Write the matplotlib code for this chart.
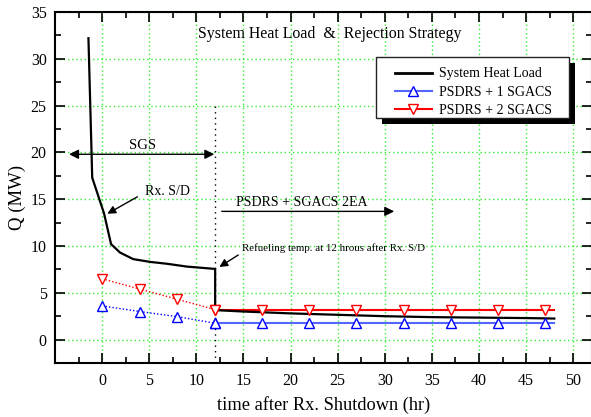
import matplotlib
matplotlib.use("Agg")
import matplotlib.pyplot as plt
from matplotlib.lines import Line2D
from matplotlib.patches import Rectangle
from matplotlib.ticker import MultipleLocator

# ---- data ----
heat_t = [-1.45, -1.05, 0.2, 0.95, 1.9, 3.3, 5.1, 6.9, 9.0, 12.0, 12.0, 15, 20, 25, 30, 35, 40, 45, 48]
heat_q = [32.2, 17.3, 13.5, 10.2, 9.3, 8.6, 8.3, 8.1, 7.8, 7.55, 3.15, 3.0, 2.8, 2.65, 2.5, 2.4, 2.35, 2.3, 2.25]

pre_t = [0, 4, 8, 12]
one_pre_q = [3.6, 3.0, 2.45, 1.75]
two_pre_q = [6.5, 5.4, 4.3, 3.2]

post_line_t = [12, 48]
post_mark_t = [12, 17, 22, 27, 32, 37, 42, 47]
one_post_q = 1.75
two_post_q = 3.15

x_ticks = [0, 5, 10, 15, 20, 25, 30, 35, 40, 45, 50]
y_ticks = [0, 5, 10, 15, 20, 25, 30, 35]

plt.rcParams['font.family'] = ['Liberation Serif', 'DejaVu Serif']

W, H = 591, 417
fig = plt.figure(figsize=(W / 100, H / 100), dpi=100)
L, R, T, B = 55, 592, 12, 363
ax = fig.add_axes([L / W, (H - B) / H, (R - L) / W, (B - T) / H])
ax.set_xlim(-5, 52)
ax.set_ylim(-2.5, 35)

def axp(px, py):
    return ((px - L) / (R - L), 1 - (py - T) / (B - T))

ax.set_xticks(x_ticks)
ax.set_yticks(y_ticks)
ax.xaxis.set_minor_locator(MultipleLocator(2.5))
ax.yaxis.set_minor_locator(MultipleLocator(2.5))
ax.grid(True, which='major', color='#33ee33', linestyle=(0, (1, 2)), linewidth=1.0)
ax.set_axisbelow(True)

ax.tick_params(which='both', direction='in', top=True, right=True, width=1.2)
ax.tick_params(which='major', length=7, labelsize=11.5)
ax.tick_params(axis='x', which='major', pad=7.5)
ax.tick_params(axis='y', which='major', pad=6)
ax.tick_params(which='minor', length=4)
for s in ax.spines.values():
    s.set_linewidth(1.5)

# vertical dotted line at 12 h
ax.plot([12, 12], [-2.5, 25], color='black', linestyle=(0, (1, 3)), linewidth=1.0, zorder=2)

# series
ms = 6.5
ax.plot(pre_t, two_pre_q, color='red', linestyle=(0, (1, 1.5)), linewidth=1.0,
        marker='v', markersize=ms, markerfacecolor='white', markeredgecolor='red', zorder=3)
ax.plot(pre_t, one_pre_q, color='blue', linestyle=(0, (1, 1.5)), linewidth=1.0,
        marker='^', markersize=ms, markerfacecolor='white', markeredgecolor='blue', zorder=3)
ax.plot(post_line_t, [two_post_q] * 2, color='red', linewidth=1.5, zorder=3)
ax.plot(post_line_t, [one_post_q] * 2, color='#5566ff', linewidth=1.5, zorder=3)
ax.plot(post_mark_t, [two_post_q] * len(post_mark_t), linestyle='none', marker='v', markersize=ms,
        markerfacecolor='white', markeredgecolor='red', zorder=4)
ax.plot(post_mark_t, [one_post_q] * len(post_mark_t), linestyle='none', marker='^', markersize=ms,
        markerfacecolor='white', markeredgecolor='blue', zorder=4)
ax.plot(heat_t, heat_q, color='black', linewidth=1.6, zorder=3.5)

# annotations
ax.text(24.2, 32.7, 'System Heat Load  &  Rejection Strategy', ha='center', va='center', fontsize=11.4)
ax.annotate('', xy=(-3.8, 19.8), xytext=(12.2, 19.8),
            arrowprops=dict(arrowstyle='<|-|>', color='black', lw=1.0, mutation_scale=14))
ax.text(4.3, 20.0, 'SGS', ha='center', va='bottom', fontsize=10.5)
ax.annotate('', xy=(0.3, 13.3), xytext=(4.0, 15.4),
            arrowprops=dict(arrowstyle='-|>', color='black', lw=1.0, mutation_scale=12))
ax.text(4.6, 15.8, 'Rx. S/D', ha='left', va='center', fontsize=10)
ax.annotate('', xy=(31.3, 13.7), xytext=(12.4, 13.7),
            arrowprops=dict(arrowstyle='-|>', color='black', lw=1.0, mutation_scale=14))
ax.text(14.2, 14.7, 'PSDRS + SGACS 2EA', ha='left', va='center', fontsize=10)
ax.annotate('', xy=(12.2, 7.6), xytext=(14.7, 9.2),
            arrowprops=dict(arrowstyle='-|>', color='black', lw=1.0, mutation_scale=12))
ax.text(14.85, 9.8, 'Refueling temp. at 12 hrous after Rx. S/D', ha='left', va='center', fontsize=7.8)

ax.set_xlabel('time after Rx. Shutdown (hr)', fontsize=13.2, labelpad=5)
ax.set_ylabel('Q (MW)', fontsize=13.5)
ax.yaxis.set_label_coords(*axp(26, 197))

# legend: frame + shadow drawn as rectangles, entries via legend
bx0, by0 = axp(376, 118)
bx1, by1 = axp(569, 57)
sx, sy = 6 / (R - L), -6 / (B - T)
ax.add_patch(Rectangle((bx0 + sx, by0 + sy), bx1 - bx0, by1 - by0, transform=ax.transAxes,
                       facecolor='black', edgecolor='none', zorder=8, clip_on=False))
ax.add_patch(Rectangle((bx0, by0), bx1 - bx0, by1 - by0, transform=ax.transAxes,
                       facecolor='white', edgecolor='#222222', linewidth=1.0, zorder=9, clip_on=False))

handles = [
    Line2D([], [], color='black', linewidth=2),
    Line2D([], [], color='#5566ff', linewidth=1.5, marker='^', markersize=ms,
           markerfacecolor='white', markeredgecolor='blue'),
    Line2D([], [], color='red', linewidth=1.5, marker='v', markersize=ms,
           markerfacecolor='white', markeredgecolor='red'),
]
labels = ['System Heat Load', 'PSDRS + 1 SGACS', 'PSDRS + 2 SGACS']
leg = ax.legend(handles, labels, loc='upper left', bbox_to_anchor=axp(395, 67.5),
                fontsize=10, frameon=False, borderpad=0, labelspacing=0.37,
                handlelength=2.66, handletextpad=0.5, borderaxespad=0)
leg.set_zorder(10)

fig.savefig('out.png', dpi=100)
